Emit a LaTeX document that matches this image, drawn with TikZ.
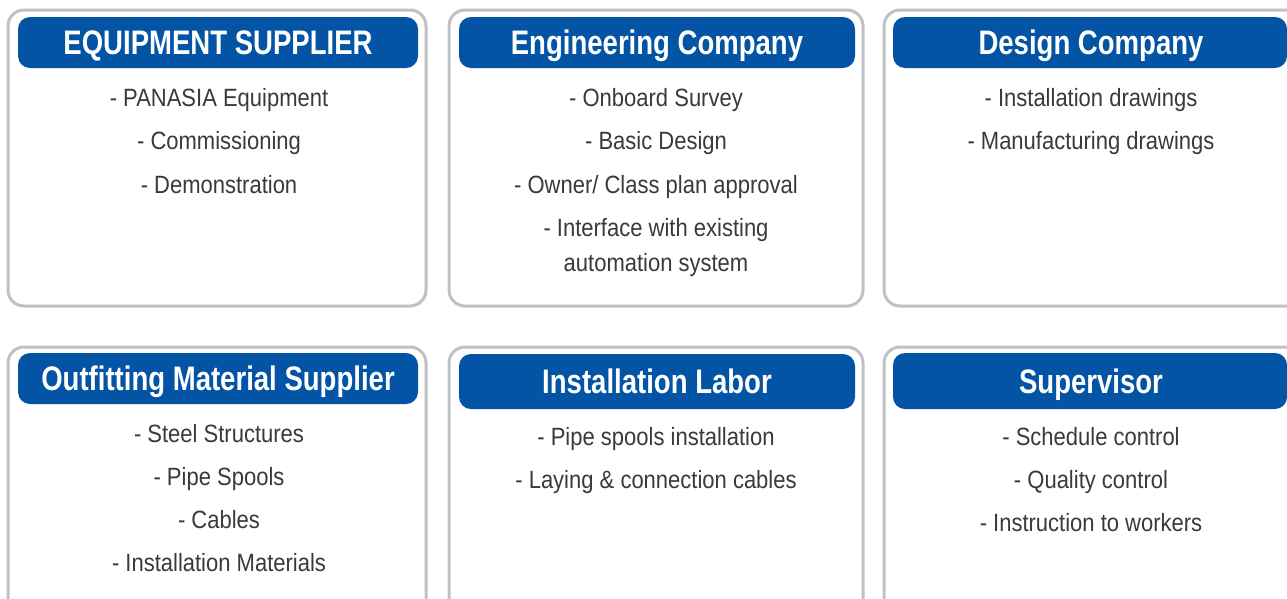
\documentclass[tikz,border=0pt]{standalone}
\usepackage{fontspec}
\setmainfont{Liberation Sans}[FakeStretch=0.88]
\newfontfamily\hdfont{Liberation Sans}[FakeStretch=0.81]
\definecolor{hdblue}{RGB}{4,84,165}
\definecolor{bordergray}{RGB}{192,193,196}
\definecolor{txtgray}{RGB}{58,58,58}
\tikzset{
  panel/.style={draw=bordergray, line width=3pt, rounded corners=16pt, fill=white,
    anchor=north west, inner sep=0pt, outer sep=0pt},
  header/.style={fill=hdblue, rounded corners=12pt, anchor=north west,
    inner sep=0pt, outer sep=0pt},
  htext/.style={anchor=base, text=white, font=\hdfont\bfseries\fontsize{34}{40}\selectfont, inner sep=0pt},
  item/.style={anchor=base, text=txtgray, font=\fontsize{25}{29}\selectfont, inner sep=0pt}
}
\begin{document}
\begin{tikzpicture}[x=1pt,y=-1pt]
\clip (0,0) rectangle (1287,598);
\fill[white] (0,0) rectangle (1287,598);
% panels
\node[panel, minimum width=418pt, minimum height=296pt] (p1) at (8,10) {};
\node[panel, minimum width=414pt, minimum height=296pt] (p2) at (449,10) {};
\node[panel, minimum width=420pt, minimum height=296pt] (p3) at (884,10) {};
\node[panel, minimum width=418pt, minimum height=270pt] (p4) at (8,347) {};
\node[panel, minimum width=414pt, minimum height=270pt] (p5) at (449,347) {};
\node[panel, minimum width=420pt, minimum height=270pt] (p6) at (884,347) {};
% headers
\node[header, minimum width=400pt, minimum height=51pt] (h1) at (18,17) {};
\node[header, minimum width=396pt, minimum height=51pt] (h2) at (459,17) {};
\node[header, minimum width=394pt, minimum height=51pt] (h3) at (893,17) {};
\node[header, minimum width=400pt, minimum height=51pt] (h4) at (18,353) {};
\node[header, minimum width=396pt, minimum height=55pt] (h5) at (459,354) {};
\node[header, minimum width=394pt, minimum height=56pt] (h6) at (893,353) {};
% header texts
\node[htext] (t1) at (218,54) {EQUIPMENT SUPPLIER};
\node[htext] (t2) at (657,54) {Engineering Company};
\node[htext] (t3) at (1091,54) {Design Company};
\node[htext] (t4) at (218,390) {Outfitting Material Supplier};
\node[htext] (t5) at (657,393) {Installation Labor};
\node[htext] (t6) at (1091,393) {Supervisor};
% items box 1
\node[item] (a1) at (219,106) {- PANASIA Equipment};
\node[item] (a2) at (219,149) {- Commissioning};
\node[item] (a3) at (219,193) {- Demonstration};
% items box 2
\node[item] (b1) at (656,106) {- Onboard Survey};
\node[item] (b2) at (656,149) {- Basic Design};
\node[item] (b3) at (656,193) {- Owner/ Class plan approval};
\node[item] (b4) at (656,236) {- Interface with existing};
\node[item] (b5) at (656,271) {automation system};
% items box 3
\node[item] (c1) at (1091,106) {- Installation drawings};
\node[item] (c2) at (1091,149) {- Manufacturing drawings};
% items box 4
\node[item] (d1) at (219,442) {- Steel Structures};
\node[item] (d2) at (219,485) {- Pipe Spools};
\node[item] (d3) at (219,528) {- Cables};
\node[item] (d4) at (219,571) {- Installation Materials};
% items box 5
\node[item] (e1) at (656,445) {- Pipe spools installation};
\node[item] (e2) at (656,488) {- Laying \& connection cables};
% items box 6
\node[item] (f1) at (1091,445) {- Schedule control};
\node[item] (f2) at (1091,488) {- Quality control};
\node[item] (f3) at (1091,531) {- Instruction to workers};
\end{tikzpicture}
\end{document}
